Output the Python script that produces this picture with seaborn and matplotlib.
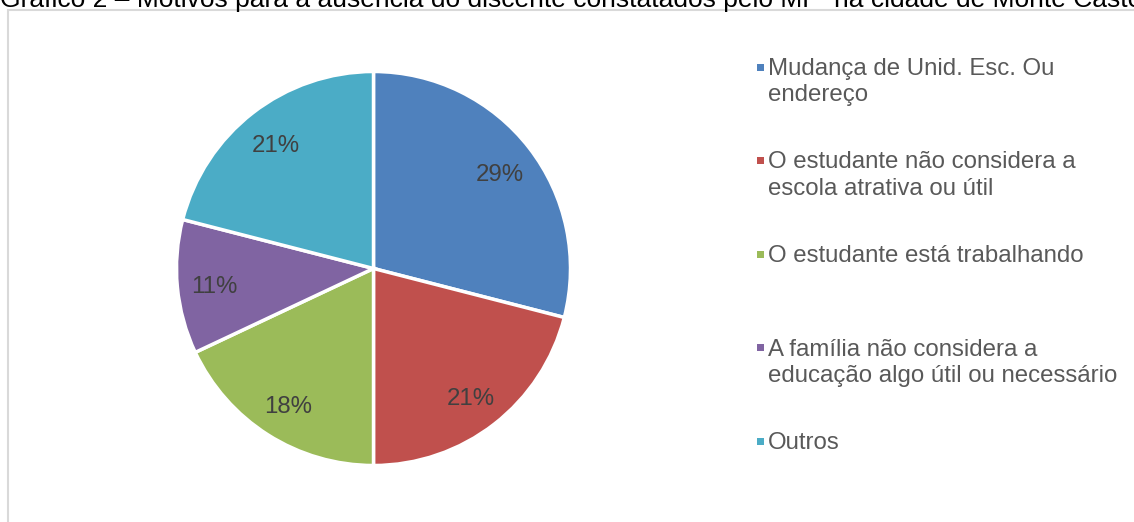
import matplotlib
matplotlib.use("Agg")
import matplotlib.pyplot as plt
from matplotlib.patches import Rectangle
import seaborn as sns

categories = [
    "Mudança de Unid. Esc. Ou\nendereço",
    "O estudante não considera a\nescola atrativa ou útil",
    "O estudante está trabalhando",
    "A família não considera a\neducação algo útil ou necessário",
    "Outros",
]
values = [29, 21, 18, 11, 21]
colors = ["#4F81BD", "#C0504D", "#9BBB59", "#8064A2", "#4BACC6"]
title = "Gráfico 2 – Motivos para a ausência do discente constatados pelo MP  na cidade de Monte Castelo"

sns.set_theme(style="white")
plt.rcParams["font.family"] = ["Liberation Sans", "DejaVu Sans"]

W, H = 1134, 522
fig = plt.figure(figsize=(W / 100, H / 100), dpi=100)
fig.patch.set_facecolor("white")

# chart area border
fig.patches.append(Rectangle((7.5 / W, -0.05), 1.2, (H - 9.5) / H + 0.05,
                             transform=fig.transFigure, fill=False,
                             edgecolor="#D9D9D9", linewidth=1.5, zorder=0))

# title (cut off at top like the source)
fig.text(0.0 / W, 1 - 6.5 / H, title, ha="left", va="baseline",
         fontsize=19.0, color="black")

cx, cy, r = 373.5, 268.5, 197
ax = fig.add_axes([(cx - r) / W, (H - cy - r) / H, 2 * r / W, 2 * r / H])
wedges, texts, autotexts = ax.pie(
    values, colors=colors, startangle=90, counterclock=False,
    autopct="%1.0f%%", pctdistance=0.81,
    wedgeprops=dict(edgecolor="white", linewidth=2.5),
    textprops=dict(fontsize=17.3, color="#404040"),
)
for t in autotexts:
    x, y = t.get_position()
    t.set_position((x, y - 0.02))
ax.set_xlim(-1.0, 1.0)
ax.set_ylim(-1.0, 1.0)
ax.set_aspect("equal")
ax.axis("off")

# legend
y0, dy = 67, 93.5
for i, (lab, col) in enumerate(zip(categories, colors)):
    y = y0 + i * dy
    fig.patches.append(Rectangle((757 / W, 1 - (y + 3.5) / H), 7 / W, 7 / H,
                                 transform=fig.transFigure, facecolor=col,
                                 edgecolor="none"))
    fig.text(768 / W, 1 - (y - 9) / H, lab, ha="left", va="top",
             fontsize=17.3, color="#595959", linespacing=1.25)

fig.savefig("out.png", dpi=100)
